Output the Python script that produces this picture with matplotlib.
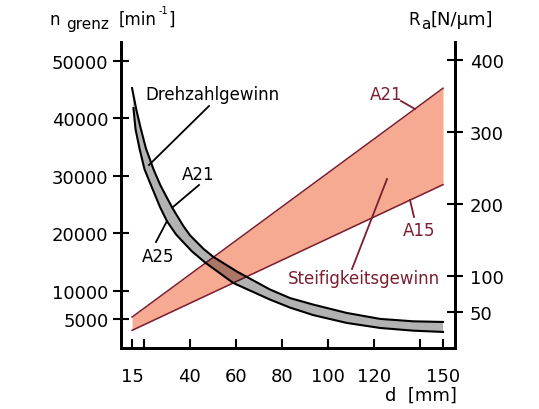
import matplotlib
matplotlib.use("Agg")
import matplotlib.pyplot as plt
from matplotlib.lines import Line2D

plt.rcParams["font.family"] = "DejaVu Sans"
plt.rcParams["mathtext.default"] = "regular"

# Drehzahlgrenze n_grenz [1/min] ueber Bohrungsdurchmesser d [mm]
d_a21 = [15, 16.8, 18.8, 21, 24.3, 27.4, 32.6, 37.3, 40.2, 46, 50.3, 60.5, 74.9,
         83.6, 93.7, 108.2, 122.7, 137.1, 150]
n_a21 = [45300, 41630, 38220, 34820, 31150, 28270, 24340, 21240, 19620, 17280, 15880,
         13330, 10190, 8700, 7560, 6110, 5070, 4650, 4540]
d_a25 = [15.6, 16.5, 18.3, 20.4, 23.6, 27.2, 30.2, 34.1, 40.9, 46.7, 59, 74.9,
         83.6, 93.7, 108.2, 122.7, 137.1, 150]
n_a25 = [41810, 38140, 34640, 31150, 28000, 24510, 22060, 19790, 16880, 14900, 11320,
         8440, 7040, 5730, 4370, 3490, 3020, 2800]

# Axialsteifigkeit R_a [N/um]
d_stiff = [15, 150]
r_a21 = [43, 361]
r_a15 = [24.5, 227]

x_ticks = [15, 20, 40, 60, 80, 100, 120, 140, 150]
x_labels = ["15", "", "40", "60", "80", "100", "120", "", "150"]
y_ticks = [5000, 10000, 20000, 30000, 40000, 50000]
r_ticks = [50, 100, 200, 300, 400]

dark_red = "#7a1e30"
salmon = "#f5aa91"
W, H = 539, 410
n_max = 53330
r_max = 425.2


def px(x, y):
    return x / W, 1 - y / H


fig = plt.figure(figsize=(W / 100, H / 100), dpi=100)
ax = fig.add_axes([121 / W, 61 / H, 334 / W, 306 / H])
ax2 = ax.twinx()

ax.set_xlim(10.2, 155.2)
ax.set_ylim(0, n_max)
ax2.set_ylim(0, r_max)

# Steifigkeitsband (rechte Achse)
ax2.fill_between(d_stiff, r_a15, r_a21, color=salmon, lw=0, zorder=1)
ax2.plot(d_stiff, r_a21, color=dark_red, lw=1.1, zorder=2)
ax2.plot(d_stiff, r_a15, color=dark_red, lw=1.1, zorder=2)

# Drehzahlband auf ax2 umgerechnet, damit es ueber dem Rot liegt
k = r_max / n_max
up = [v * k for v in n_a21]
lo = [v * k for v in n_a25]
ax2.fill(d_a21 + d_a25[::-1], up + lo[::-1], color="black", alpha=0.3, lw=0, zorder=3)
ax2.plot(d_a21, up, color="black", lw=1.5, zorder=4)
ax2.plot(d_a25, lo, color="black", lw=1.5, zorder=4)

for a in (ax, ax2):
    a.spines["top"].set_visible(False)
    for s in a.spines.values():
        s.set_linewidth(2.0)

ax.set_xticks(x_ticks)
ax.set_xticklabels(x_labels)
ax.set_yticks(y_ticks)
ax.set_yticklabels([str(v) for v in y_ticks])
ax2.set_yticks(r_ticks)
ax2.set_yticklabels([str(v) for v in r_ticks])

ax.tick_params(axis="x", direction="in", length=6.5, width=1.5, pad=13.5, labelsize=13)
ax.tick_params(axis="y", direction="inout", length=11, width=1.5, pad=3.5, labelsize=13)
ax2.tick_params(axis="y", direction="inout", length=11, width=1.5, pad=5, labelsize=13)

# Achsbeschriftungen
fig.text(*px(50, 25), "n", fontsize=12, va="baseline")
fig.text(*px(66, 29), "grenz", fontsize=11, va="baseline")
fig.text(*px(119, 25), "[min", fontsize=12, va="baseline")
fig.text(*px(159, 14), "-1", fontsize=7, va="baseline")
fig.text(*px(168, 25), "]", fontsize=12, va="baseline")

fig.text(*px(408, 25), "R", fontsize=12, va="baseline")
fig.text(*px(421, 29), "a", fontsize=11, va="baseline")
fig.text(*px(430, 25), "[N/\u00b5m]", fontsize=13, va="baseline")

fig.text(*px(457, 401), "d  [mm]", fontsize=13, va="baseline", ha="right")

# Beschriftungen mit Hinweislinien
fig.text(*px(145, 100), "Drehzahlgewinn", fontsize=12, va="baseline")
fig.text(*px(182, 180), "A21", fontsize=12, va="baseline")
fig.text(*px(142, 262), "A25", fontsize=12, va="baseline")
fig.text(*px(370, 100), "A21", fontsize=12, va="baseline", color=dark_red)
fig.text(*px(403, 236), "A15", fontsize=12, va="baseline", color=dark_red)
fig.text(*px(288, 284), "Steifigkeitsgewinn", fontsize=12, va="baseline", color=dark_red)

leaders = [
    ((209, 107), (149, 166), "black"),
    ((199, 186), (173, 208), "black"),
    ((156, 243), (167, 222), "black"),
    ((401, 102), (415, 110), dark_red),
    ((414, 218), (410, 201), dark_red),
    ((352, 270), (387, 180), dark_red),
]
for p0, p1, c in leaders:
    x0, y0 = px(*p0)
    x1, y1 = px(*p1)
    fig.add_artist(Line2D([x0, x1], [y0, y1], color=c, lw=1.3))

fig.savefig("out.png", dpi=100)
